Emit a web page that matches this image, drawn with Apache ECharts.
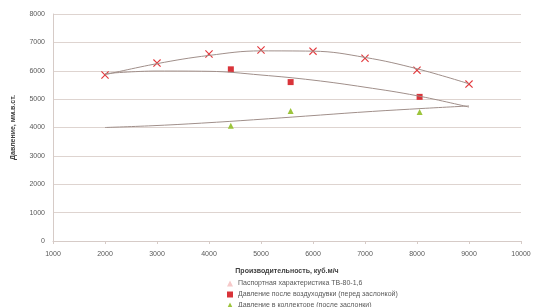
<!DOCTYPE html>
<html>
<head>
<meta charset="utf-8">
<script src="https://cdn.jsdelivr.net/npm/echarts@6/dist/echarts.min.js"></script>
<style>
  html, body { margin: 0; padding: 0; background: #fff; }
  #chart { width: 537px; height: 307px; }
</style>
</head>
<body>
<div id="chart"></div>
<script>
// значения
const flowTicks = [2000, 3000, 4000, 5000, 6000, 7000, 8000, 9000];
const passportY = [5850, 6270, 6590, 6730, 6690, 6440, 6020, 5530];
const passportTrend = [5860, 6250, 6540, 6700, 6690, 6470, 6070, 5540];

const measX = [4420, 5570, 8050];
const blowerY = [6050, 5600, 5080];
const collectorY = [4060, 4580, 4550];

const blowerTrend = [5900, 5990, 5980, 5850, 5670, 5420, 5120, 4720];
const collectorTrend = [4000, 4070, 4170, 4290, 4420, 4550, 4660, 4760];

const names = [
  'Паспортная характеристика ТВ-80-1,6',
  'Давление после воздуходувки (перед заслонкой)',
  'Давление в коллекторе (после заслонки)'
];

const zip = (xs, ys) => xs.map((x, i) => [x, ys[i]]);
const crossPath = 'path://M0,1L1,0L5,4L9,0L10,1L6,5L10,9L9,10L5,6L1,10L0,9L4,5Z';
const trendColor = '#a08f8a';
const font = 'Liberation Sans, sans-serif';

// одна легенда на строку, чтобы не переносилось в две колонки
const legendIcons = [
  { icon: 'triangle', itemStyle: { color: '#f6c9c9' } },
  { icon: 'rect' },
  { icon: 'triangle' }
];
const legends = names.map((n, i) => ({
  left: 222,
  top: 275 + i * 11,
  itemWidth: 6,
  itemHeight: 6,
  textStyle: { fontSize: 7, color: '#595959', fontFamily: font },
  data: [Object.assign({ name: n }, legendIcons[i])]
}));

const chart = echarts.init(document.getElementById('chart'));

chart.setOption({
  animation: false,
  textStyle: { fontFamily: font },
  grid: { left: 53, right: 16, top: 14, bottom: 66 },
  legend: legends,
  xAxis: {
    type: 'value',
    min: 1000,
    max: 10000,
    interval: 1000,
    name: 'Производительность, куб.м/ч',
    nameLocation: 'middle',
    nameGap: 27,
    nameTextStyle: { fontSize: 7, fontWeight: 'bold', color: '#404040' },
    axisLine: { lineStyle: { color: '#d6cbc7' } },
    axisTick: { show: true, length: 3, lineStyle: { color: '#d6cbc7' } },
    axisLabel: { fontSize: 7, color: '#595959', margin: 10, formatter: v => String(v) },
    splitLine: { show: false }
  },
  yAxis: {
    type: 'value',
    min: 0,
    max: 8000,
    interval: 1000,
    name: 'Давление, мм.в.ст.',
    nameLocation: 'middle',
    nameGap: 36,
    nameRotate: 90,
    nameTextStyle: { fontSize: 7, fontWeight: 'bold', color: '#404040' },
    axisLine: { show: true, lineStyle: { color: '#d6cbc7' } },
    axisTick: { show: false },
    axisLabel: { fontSize: 7, color: '#595959', margin: 8, formatter: v => String(v) },
    splitLine: { lineStyle: { color: '#ded4d0', width: 1 } }
  },
  series: [
    {
      name: 'trend1',
      type: 'line',
      smooth: 0.4,
      showSymbol: false,
      silent: true,
      lineStyle: { color: trendColor, width: 1 },
      data: zip(flowTicks, passportTrend)
    },
    {
      name: 'trend2',
      type: 'line',
      smooth: 0.4,
      showSymbol: false,
      silent: true,
      lineStyle: { color: trendColor, width: 1 },
      data: zip(flowTicks, blowerTrend)
    },
    {
      name: 'trend3',
      type: 'line',
      smooth: 0.4,
      showSymbol: false,
      silent: true,
      lineStyle: { color: trendColor, width: 1 },
      data: zip(flowTicks, collectorTrend)
    },
    {
      name: names[0],
      type: 'scatter',
      symbol: crossPath,
      symbolSize: 8,
      itemStyle: { color: '#e3383c', opacity: 1 },
      data: zip(flowTicks, passportY)
    },
    {
      name: names[1],
      type: 'scatter',
      symbol: 'rect',
      symbolSize: 6,
      itemStyle: { color: '#d9343a', opacity: 1 },
      data: zip(measX, blowerY)
    },
    {
      name: names[2],
      type: 'scatter',
      symbol: 'triangle',
      symbolSize: 6,
      itemStyle: { color: '#9cc43c', opacity: 1 },
      data: zip(measX, collectorY)
    }
  ]
});
</script>
</body>
</html>
